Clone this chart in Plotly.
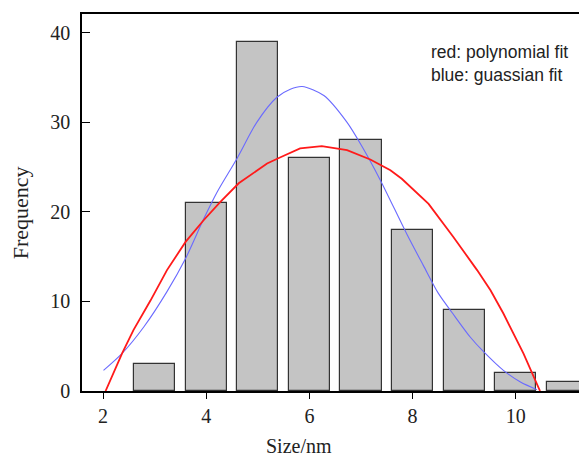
import plotly.graph_objects as go

# Histogram data
sizes = [3, 4, 5, 6, 7, 8, 9, 10, 11]
freqs = [3, 21, 39, 26, 28, 18, 9, 2, 1]

# Polynomial fit (red)
poly_x = [2.05, 2.37, 2.59, 2.92, 3.24, 3.60, 3.95, 4.27, 4.63, 5.18, 5.44, 5.82,
          6.24, 6.73, 7.18, 7.57, 7.79, 8.31, 8.79, 9.25, 9.51, 9.76, 10.15, 10.47]
poly_y = [0.0, 4.2, 6.8, 10.1, 13.5, 16.65, 19.07, 21.1, 23.2, 25.4, 26.1, 27.1,
          27.34, 26.9, 25.85, 24.66, 23.7, 20.9, 17.2, 13.5, 11.25, 8.65, 4.18, 0.0]

# Gaussian fit (blue)
gauss_x = [2.01, 2.37, 2.79, 3.24, 3.60, 3.95, 4.21, 4.60, 4.98, 5.37, 5.63, 5.86, 6.28,
           6.73, 7.02, 7.37, 7.89, 8.21, 8.50, 8.76, 9.12, 9.38, 9.76, 10.09, 10.41]
gauss_y = [2.3, 4.2, 7.15, 11.1, 14.8, 19.2, 22.2, 26.0, 30.0, 32.8, 33.7, 34.0, 33.0,
           30.0, 27.3, 23.6, 17.5, 14.0, 10.9, 8.8, 6.0, 4.36, 2.3, 1.0, 0.15]

x_ticks = [2, 4, 6, 8, 10]
y_ticks = [0, 10, 20, 30, 40]

# the page body adds an 8px offset; size the figure so the plot lands where the reference has it
OFF = 8
W, H = 587 - OFF, 458 - OFF
L, T = 82 - OFF, 14 - OFF
PW, PH = 505, 377
B = H - T - PH
R = W - L - PW

fig = go.Figure()
fig.add_trace(go.Bar(x=sizes, y=freqs, width=0.8,
                     marker=dict(color="#c4c4c4", line=dict(color="#333333", width=1.2)),
                     showlegend=False))
fig.add_trace(go.Scatter(x=gauss_x, y=gauss_y, mode="lines",
                         line=dict(color="#6a6aff", width=1.1, shape="spline", smoothing=0.8),
                         showlegend=False))
fig.add_trace(go.Scatter(x=poly_x, y=poly_y, mode="lines", line=dict(color="#ff1a1a", width=1.8),
                         showlegend=False))

serif = "Liberation Serif, Times New Roman, serif"
fig.update_layout(
    width=W, height=H,
    margin=dict(l=L, r=R, t=T, b=B, autoexpand=False),
    paper_bgcolor="white", plot_bgcolor="white",
    bargap=0,
    xaxis=dict(range=[1.593, 11.38], tickvals=x_ticks, ticks="outside", ticklen=6, tickwidth=1.3,
               tickcolor="black", showline=True, linecolor="black", linewidth=1.5, mirror=True,
               showgrid=False, zeroline=False,
               tickfont=dict(family=serif, size=20, color="#222")),
    yaxis=dict(range=[0, 42.1], tickvals=y_ticks, ticks="inside", ticklen=8, tickwidth=1.3,
               tickcolor="black", showline=True, linecolor="black", linewidth=1.5,
               showgrid=False, zeroline=False, ticklabelstandoff=6,
               tickfont=dict(family=serif, size=20, color="#222")),
    annotations=[
        dict(text="Size/nm", xref="paper", yref="paper", x=(298.5 - 82) / PW, y=-(446 - 390.7) / PH,
             showarrow=False, xanchor="center", yanchor="middle",
             font=dict(family=serif, size=20, color="#222")),
        dict(text="Frequency", xref="paper", yref="paper", x=-(82 - 20) / PW, y=(390.7 - 213) / PH,
             showarrow=False, xanchor="center", yanchor="middle", textangle=-90,
             font=dict(family=serif, size=22, color="#222")),
        dict(text="red: polynomial fit<br>blue: guassian fit", xref="paper", yref="paper",
             x=(429 - 82) / PW, y=(390.7 - 40) / PH, showarrow=False, xanchor="left", yanchor="top",
             align="left", font=dict(family="Liberation Sans, Arial, sans-serif", size=17.5, color="#222")),
    ],
)

fig.write_html("out.html")
